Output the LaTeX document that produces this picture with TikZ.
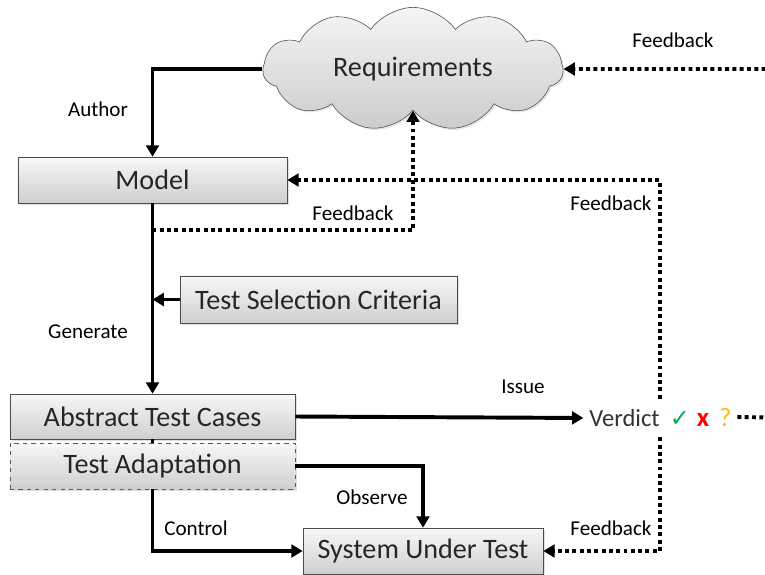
\documentclass[tikz,border=0pt]{standalone}
\usepackage{fontspec}
\setmainfont{Carlito}
\newfontfamily\symfont{DejaVu Sans}
\usepackage{xcolor}
\usepackage{tikz}
\usetikzlibrary{arrows.meta,positioning,calc,shapes.symbols,shadows}

\definecolor{passgreen}{HTML}{00B050}
\definecolor{failred}{HTML}{FF0000}
\definecolor{inconcl}{HTML}{FFC000}

\begin{document}
\begin{tikzpicture}[x=0.025cm,y=-0.025cm,>={Triangle[length=8pt,width=9pt]},
  box/.style={draw=gray!60!black,top color=gray!6,bottom color=gray!38,
    drop shadow={opacity=0.25,shadow xshift=1.2pt,shadow yshift=-1.2pt},
    font=\fontsize{20}{24}\selectfont,text=black!85,inner sep=0pt},
  flow/.style={->,line width=2.8pt},
  fb/.style={->,line width=2.8pt,dash pattern=on 2.8pt off 2.4pt},
  lbl/.style={font=\fontsize{15}{18}\selectfont}]
\clip (0,0) rectangle (765,574);
% requirements cloud
\node[cloud,cloud puffs=11,cloud puff arc=110,aspect=2.6,minimum width=7.5cm,minimum height=2.85cm,
  draw=gray!60!black,top color=gray!8,bottom color=gray!40,font=\fontsize{20}{24}\selectfont,text=black!85,
  drop shadow={opacity=0.2,shadow xshift=1.2pt,shadow yshift=-1.2pt}] (req) at (413,69) {Requirements};
% boxes
\node[box,minimum width=6.725cm,minimum height=1.15cm] (model) at (152.5,180) {Model};
\node[box,minimum width=6.925cm,minimum height=1.175cm] (tsc) at (318.5,299.5) {Test Selection Criteria};
\node[box,minimum width=7.125cm,minimum height=1.125cm] (atc) at (152.5,416.5) {Abstract Test Cases};
\node[box,dashed,draw=gray!70!black,minimum width=7.125cm,minimum height=1.15cm] (ta) at (152.5,466) {Test Adaptation};
\node[box,minimum width=6cm,minimum height=1.15cm] (sut) at (423,551) {System Under Test};
% verdict
\node[font=\fontsize{17.5}{20}\selectfont,text=black!80,inner xsep=0pt,minimum height=0.95cm,anchor=east] (verdict) at (660,418) {Verdict};
\node[anchor=west,inner xsep=4pt,font=\fontsize{19}{22}\selectfont] (marks) at (664,417)
  {\textcolor{passgreen}{\symfont\fontsize{17}{20}\selectfont ✓}\hspace{5pt}\textcolor{failred}{\textbf{x}}\hspace{7pt}\textcolor{inconcl}{?}};
% solid flows
\draw[flow] (req.west) -| (model.north);
\draw[flow] (model.south) -- (atc.north);
\draw[flow] (tsc.west) -- (tsc.west -| model.south);
\draw[line width=2.8pt] (atc.south) -- (ta.north);
\draw[flow] (ta.south) |- (sut.west);
\draw[flow] (ta.east) -| (sut.north);
\draw[flow,shorten >=4pt] (atc.east) -- (verdict.west);
% feedback loops
\coordinate (genfb) at ($(model.south)+(0,27)$);
\draw[fb] (genfb) -| (req.south);
\draw[fb] (verdict.north east) |- (model.east);
\draw[fb] (verdict.south east) |- (sut.east);
\draw[fb] (marks.east) -- (800,418) |- (req.east);
% labels
\node[lbl] at (98,109) {Author};
\node[lbl] at (88,332) {Generate};
\node[lbl] at (196,528) {Control};
\node[lbl] at (372,497) {Observe};
\node[lbl] at (523,387) {Issue};
\node[lbl] at (353,213) {Feedback};
\node[lbl] at (611,203) {Feedback};
\node[lbl] at (673,40) {Feedback};
\node[lbl] at (611,528) {Feedback};
\end{tikzpicture}
\end{document}
